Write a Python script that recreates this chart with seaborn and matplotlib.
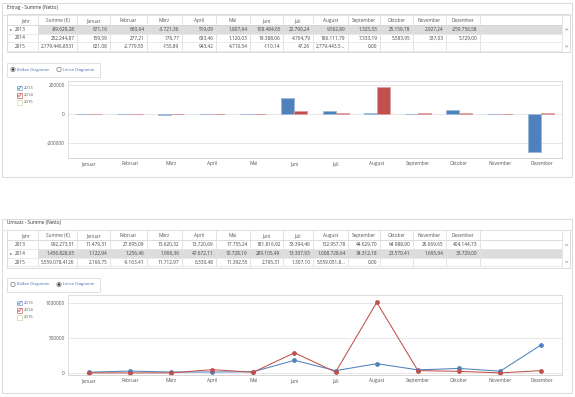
import numpy as np
import pandas as pd
import matplotlib
matplotlib.use("Agg")
import matplotlib.pyplot as plt
import seaborn as sns
from matplotlib.patches import Rectangle, Ellipse
from matplotlib.lines import Line2D

# ---------------- data ----------------
months = ["Januar", "Februar", "März", "April", "Mai", "Juni", "Juli",
          "August", "September", "Oktober", "November", "Dezember"]
years = ["2013", "2014", "2015"]
shown_years = ["2013", "2014"]

ertrag_summe = [-89629.28, 252244.87, 2779446.8531]
ertrag_2013 = [671.16, 660.64, -3721.36, 519.09, 1807.64, 108484.65, 22790.24,
               9562.89, 1325.33, 25159.78, 2927.24, -259756.58]
ertrag_2014 = [159.59, 277.21, 776.77, 683.46, 1120.03, 19388.06, 4764.79,
               186111.79, 7333.19, 5583.95, 337.03, 5729.00]
ertrag_2015 = [621.08, -2779.50, -155.89, 943.42, 4710.54, -110.14, 47.26,
               2779443.5417, 0.00, None, None, None]

umsatz_summe = [992273.51, 1456828.65, 5559078.4126]
umsatz_2013 = [11479.31, 27695.09, 13620.32, 13720.69, 17755.24, 181816.92, 33394.46,
               132957.78, 44629.70, 64988.90, 26069.65, 404144.73]
umsatz_2014 = [1122.94, 1256.46, 1996.36, 47672.11, 10728.19, 289105.49, 13307.93,
               1008728.64, 34312.18, 23570.41, 1695.94, 33729.00]
umsatz_2015 = [2166.75, -9163.41, 11712.97, 6330.48, 11392.55, 2795.31, 1307.10,
               5559051.8126, 0.00, None, None, None]

bar_yticks = [200000, 0, -200000]
line_yticks = [0, 500000, 1000000]
year_colors = {"2013": "#4f81bd", "2014": "#c0504d", "2015": "#9bbb59"}
box_colors = {"2013": "#7da2cf", "2014": "#c96a67", "2015": "#c9d99f"}

# ---------------- setup ----------------
sns.set_style("white")
plt.rcParams["font.family"] = ["Open Sans", "DejaVu Sans"]
plt.rcParams["axes.unicode_minus"] = False

W, H = 575, 397
fig = plt.figure(figsize=(W / 100, H / 100), dpi=100)
FS = 3.4
TXT = "#444444"
GRIDC = "#e3e3e3"
BORDER = "#d4d4d4"


def fx(x):
    return x / W


def fy(y):
    return 1 - y / H


def line(x1, y1, x2, y2, color=BORDER, lw=0.6):
    fig.add_artist(Line2D([fx(x1), fx(x2)], [fy(y1), fy(y2)],
                          transform=fig.transFigure, color=color, lw=lw))


def rect(x0, y0, x1, y1, fc="none", ec=BORDER, lw=0.6, z=0):
    fig.add_artist(Rectangle((fx(x0), fy(y1)), (x1 - x0) / W, (y1 - y0) / H,
                             transform=fig.transFigure, facecolor=fc,
                             edgecolor=ec, lw=lw, zorder=z))


def text(x, y, s, ha="left", color=TXT, fs=FS, **kw):
    return fig.text(fx(x), fy(y), s, ha=ha, va="center", color=color,
                    fontsize=fs, **kw)


def fmt(v):
    if v is None:
        return ""
    dec = 2 if abs(round(v, 2) - v) < 1e-9 else 4
    s = f"{v:,.{dec}f}"
    return s.replace(",", "X").replace(".", ",").replace("X", ".")


col_edges = [7, 38, 77, 110, 147, 182, 216, 250, 283, 313, 348, 380, 413, 446, 480, 562]
headers = ["Jahr", "Summe (€)"] + months
RH = 8.7
fit_texts = []


def draw_table(top, title, summe, rows, highlight):
    panel_top = top - 11.5
    text(7, panel_top + 4, title, color="#333333")
    line(2, top, 572, top, color="#e0e0e0")
    hy = top + 6
    hb = hy + RH / 2
    tb = hb + 3 * RH
    rect(7, top, 570, tb + 1.5, ec=BORDER)
    # highlight row
    ry0 = hb + highlight * RH
    rect(38, ry0, 562, ry0 + RH, fc="#dcdcdc", ec="none", z=0)
    # header
    for i, h in enumerate(headers):
        cx = (col_edges[i] + col_edges[i + 1]) / 2
        text(cx + (3 if i == 0 else 0), hy, h, ha="center", color="#555555")
    line(7, hb, 562, hb)
    for xe in col_edges[1:]:
        line(xe, top, xe, tb, color="#dedede")
    for r in range(3):
        yb = hb + (r + 1) * RH
        line(7, yb, 562, yb, color="#e6e6e6")
    # rows
    for r in range(3):
        yc = hb + r * RH + RH / 2
        if r == highlight:
            text(10, yc, "▸", color="#666666", fs=FS * 0.9,
                 family=["DejaVu Sans"])
        text(15, yc, years[r])
        vals = [summe[r]] + rows[r]
        for j, v in enumerate(vals):
            x1 = col_edges[j + 2] - 2.5
            t = text(x1, yc, fmt(v), ha="right")
            fit_texts.append((t, col_edges[j + 2] - col_edges[j + 1] - 4))
    # scrollbar
    line(562, top, 562, tb + 1.5, color="#e6e6e6")
    ua = hb + RH / 2
    da = tb - RH / 2
    line(565.3, ua + 1, 566.7, ua - 0.4, color="#999999", lw=0.5)
    line(566.7, ua - 0.4, 568.1, ua + 1, color="#999999", lw=0.5)
    line(565.3, da - 1, 566.7, da + 0.4, color="#999999", lw=0.5)
    line(566.7, da + 0.4, 568.1, da - 1, color="#999999", lw=0.5)


def draw_radio(y, selected):
    rect(7, y - 7, 100, y + 7, ec="#dcdcdc")
    for k, (cx, lab) in enumerate([(13, "Balken Diagramm"), (59, "Linien Diagramm")]):
        fig.add_artist(Ellipse((fx(cx), fy(y)), 4.4 / W, 4.4 / H,
                               transform=fig.transFigure, fill=False,
                               ec="#777777", lw=0.5))
        if k == selected:
            fig.add_artist(Ellipse((fx(cx), fy(y)), 2.4 / W, 2.4 / H,
                                   transform=fig.transFigure, fc="#222222",
                                   ec="none"))
        text(cx + 3.8, y, lab, color="#3b6eae", fs=2.75)


def draw_checks(y0):
    for i, yr in enumerate(years):
        y = y0 + i * 7.2
        rect(17, y - 2.4, 21.8, y + 2.4, ec=box_colors[yr], lw=0.5)
        if yr in shown_years:
            fig.add_artist(Line2D([fx(17.9), fx(19.1), fx(21.2)],
                                  [fy(y), fy(y + 1.5), fy(y - 1.8)],
                                  transform=fig.transFigure,
                                  color=year_colors[yr], lw=0.55))
        text(24, y, yr, color="#555555", fs=3.1)


def style_axes(ax, ylim, yticks):
    ax.set_xlim(-0.5, 11.5)
    ax.set_ylim(*ylim)
    ax.set_xlabel("")
    ax.set_ylabel("")
    ax.set_yticks(yticks)
    ax.set_yticklabels([str(v) for v in yticks])
    ax.yaxis.grid(True, color=GRIDC, lw=0.6)
    ax.xaxis.grid(False)
    ax.set_axisbelow(True)
    for s in ax.spines.values():
        s.set_color("#d8d8d8")
        s.set_linewidth(0.6)
    ax.spines["bottom"].set_color("#cfcfcf")
    ax.tick_params(axis="both", labelsize=FS, colors="#555555", length=0, pad=2.2)
    ax.set_xticks(np.arange(-0.5, 12, 1), minor=True)
    ax.tick_params(axis="x", which="minor", length=1.8, color="#cccccc", width=0.5)


# ---------------- panel frames ----------------
rect(2, 3, 572, 177, ec=BORDER)
rect(2, 219, 572, 393, ec=BORDER)

# ---------------- top panel: Ertrag ----------------
draw_table(14.5, "Ertrag - Summe (Netto)", ertrag_summe,
           [ertrag_2013, ertrag_2014, ertrag_2015], highlight=0)
draw_radio(69.5, selected=0)
draw_checks(88)

ax1 = fig.add_axes([fx(68), fy(158), (562 - 68) / W, (158 - 81) / H])
df_bar = pd.DataFrame({
    "Monat": months * 2,
    "Jahr": ["2013"] * 12 + ["2014"] * 12,
    "Wert": ertrag_2013 + ertrag_2014,
})
sns.barplot(data=df_bar, x="Monat", y="Wert", hue="Jahr", order=months,
            hue_order=shown_years, palette=year_colors, width=0.63,
            saturation=1, legend=False, ax=ax1, linewidth=0.7)
for p in ax1.patches:
    fc = np.array(p.get_facecolor())
    ec = fc.copy()
    ec[:3] = fc[:3] * 0.55 + 0.45
    p.set_edgecolor(ec)
style_axes(ax1, (-303448, 227586), bar_yticks)

# ---------------- bottom panel: Umsatz ----------------
draw_table(230, "Umsatz - Summe (Netto)", umsatz_summe,
           [umsatz_2013, umsatz_2014, umsatz_2015], highlight=1)
draw_radio(284.5, selected=1)
draw_checks(303)

ax2 = fig.add_axes([fx(68), fy(375), (562 - 68) / W, (375 - 295) / H])
df_line = pd.DataFrame({
    "Monat": months * 2,
    "Jahr": ["2013"] * 12 + ["2014"] * 12,
    "Wert": umsatz_2013 + umsatz_2014,
})
sns.pointplot(data=df_line, x="Monat", y="Wert", hue="Jahr", order=months,
              hue_order=shown_years, palette=year_colors, markers="o",
              errorbar=None, legend=False, ax=ax2, markersize=2.8,
              linewidth=0.75)
style_axes(ax2, (-28571, 1114286), line_yticks)

# ---------------- truncate table texts to cell width ----------------
fig.canvas.draw()
renderer = fig.canvas.get_renderer()
for t, maxw in fit_texts:
    s = t.get_text()
    if not s:
        continue
    if t.get_window_extent(renderer=renderer).width > maxw:
        while len(s) > 1:
            s = s[:-1]
            t.set_text(s + "...")
            if t.get_window_extent(renderer=renderer).width <= maxw:
                break

fig.savefig("out.png", dpi=100, facecolor="white")
